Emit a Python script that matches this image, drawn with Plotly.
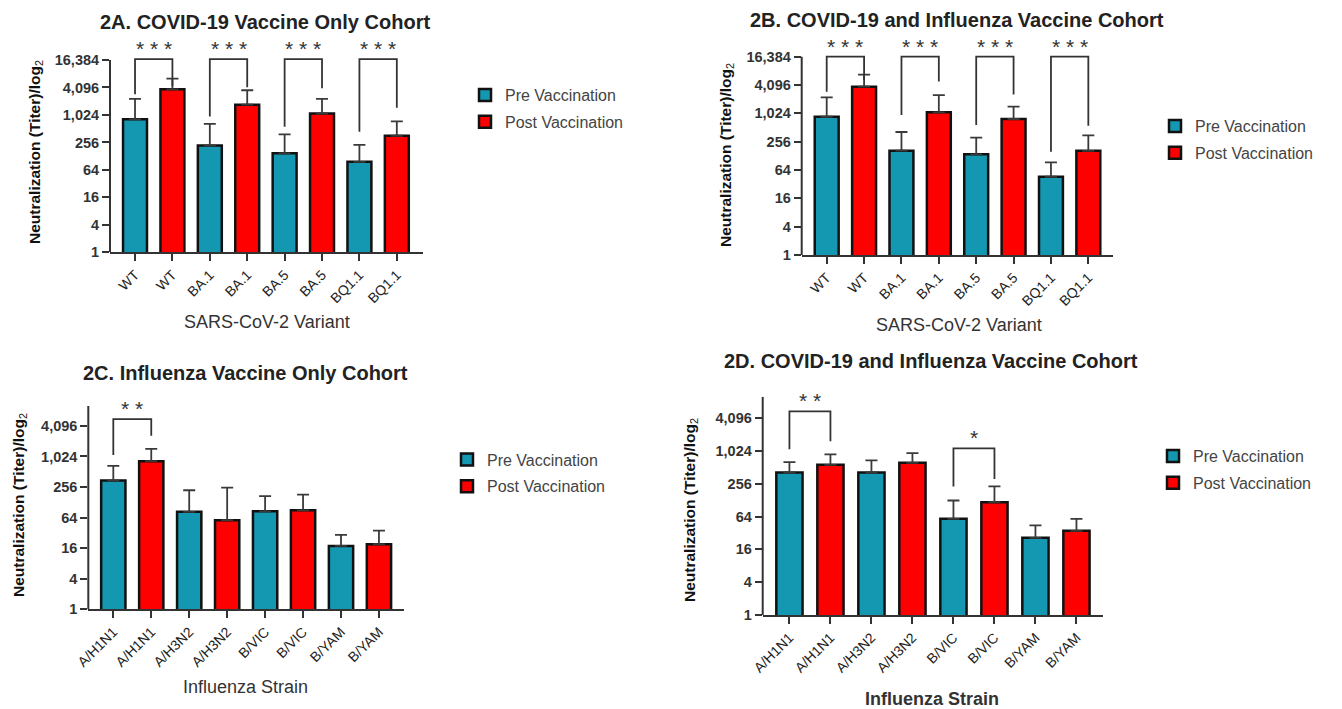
import math
import plotly.graph_objects as go

# ---------------- data ----------------
variants = ["WT", "BA.1", "BA.5", "BQ1.1"]
strains = ["A/H1N1", "A/H3N2", "B/VIC", "B/YAM"]

# 2A COVID-19 vaccine only cohort (mean titer, upper end of error bar)
a_pre = [820, 218, 148, 96]
a_pre_upper = [2300, 650, 385, 226]
a_post = [3740, 1720, 1100, 359]
a_post_upper = [6400, 3560, 2300, 740]

# 2B COVID-19 and influenza vaccine cohort
b_pre = [868, 165, 138, 46]
b_pre_upper = [2240, 411, 311, 93]
b_post = [3770, 1075, 776, 164]
b_post_upper = [6800, 2510, 1420, 349]

# 2C influenza vaccine only cohort
c_pre = [343, 83, 85, 17.7]
c_pre_upper = [668, 221, 169, 29.2]
c_post = [826, 57, 89, 19.1]
c_post_upper = [1444, 250, 182, 35.3]

# 2D COVID-19 and influenza vaccine cohort
d_pre = [411, 411, 58, 26]
d_pre_upper = [637, 683, 126, 44]
d_post = [569, 618, 117, 35]
d_post_upper = [880, 931, 228, 58]

# significance brackets: pair index, bracket top, left leg end, right leg end (titer), label
a_sig_pair = [0, 1, 2, 3]
a_sig_top = [17200, 17200, 17200, 17200]
a_sig_left = [2896, 942, 568, 440]
a_sig_right = [4390, 4120, 3930, 1470]
a_sig_label = ["***", "***", "***", "***"]

b_sig_pair = [0, 1, 2, 3]
b_sig_top = [16384, 16384, 16384, 16384]
b_sig_left = [2960, 942, 580, 156]
b_sig_right = [5220, 4840, 2590, 556]
b_sig_label = ["***", "***", "***", "***"]

c_sig_pair = [0]
c_sig_top = [5560]
c_sig_left = [1097]
c_sig_right = [2610]
c_sig_label = ["**"]

d_sig_pair = [0, 2]
d_sig_top = [5440, 1136]
d_sig_left = [1097, 228]
d_sig_right = [1530, 311]
d_sig_label = ["**", "*"]

y_tick_vals = [1, 4, 16, 64, 256, 1024, 4096, 16384]
y_tick_text = ["1", "4", "16", "64", "256", "1,024", "4,096", "16,384"]

series_names = ["Pre Vaccination", "Post Vaccination"]

# ---------------- styles / layout ----------------
TEAL = "#1497B0"
RED = "#FF0000"
EDGE = "#111111"
AXC = "#333333"
FONT = "Liberation Sans, Arial, sans-serif"

W, H = 1342, 709


def px(x):
    return x / W


def py(y):
    return 1 - y / H


panels = [
    dict(cats=variants, pre=a_pre, pre_up=a_pre_upper, post=a_post, post_up=a_post_upper,
         sig=(a_sig_pair, a_sig_top, a_sig_left, a_sig_right, a_sig_label),
         title="2A. COVID-19 Vaccine Only Cohort", xtitle="SARS-CoV-2 Variant", xbold=False,
         box=(110, 423, 55.9, 252.3), xr=[-0.669, 7.70],
         ytop=14.3, axtop=14, ymaxtick=8,
         title_xy=(265, 22), xt_xy=(267, 322), yt_xy=(35, 152),
         leg=(465, 108.5)),
    dict(cats=variants, pre=b_pre, pre_up=b_pre_upper, post=b_post, post_up=b_post_upper,
         sig=(b_sig_pair, b_sig_top, b_sig_left, b_sig_right, b_sig_label),
         title="2B. COVID-19 and Influenza Vaccine Cohort", xtitle="SARS-CoV-2 Variant", xbold=False,
         box=(801.7, 1113, 52.45, 255), xr=[-0.669, 7.66],
         ytop=14.3, axtop=14, ymaxtick=8,
         title_xy=(957, 20), xt_xy=(959, 325), yt_xy=(726, 155),
         leg=(1155, 139.5)),
    dict(cats=strains, pre=c_pre, pre_up=c_pre_upper, post=c_post, post_up=c_post_upper,
         sig=(c_sig_pair, c_sig_top, c_sig_left, c_sig_right, c_sig_label),
         title="2C. Influenza Vaccine Only Cohort", xtitle="Influenza Strain", xbold=False,
         box=(88.3, 404, 406, 609.3), xr=[-0.659, 7.66],
         ytop=13.3, axtop=13.3, ymaxtick=7,
         title_xy=(245, 373), xt_xy=(245, 687), yt_xy=(19, 505),
         leg=(447, 473)),
    dict(cats=strains, pre=d_pre, pre_up=d_pre_upper, post=d_post, post_up=d_post_upper,
         sig=(d_sig_pair, d_sig_top, d_sig_left, d_sig_right, d_sig_label),
         title="2D. COVID-19 and Influenza Vaccine Cohort", xtitle="Influenza Strain", xbold=True,
         box=(762.7, 1102.7, 396.7, 615), xr=[-0.652, 7.64],
         ytop=13.3, axtop=13.3, ymaxtick=7,
         title_xy=(931, 361), xt_xy=(932, 699), yt_xy=(690, 510),
         leg=(1153, 469.5)),
]

fig = go.Figure()
layout = dict(width=W, height=H, margin=dict(l=0, r=0, t=0, b=0, pad=0, autoexpand=False),
              paper_bgcolor="white", plot_bgcolor="white", barmode="overlay",
              font=dict(family=FONT, color=AXC), annotations=[], shapes=[])


def paper_text(x, y, text, size, color, angle=0):
    return dict(x=px(x), y=py(y), xref="paper", yref="paper", text=text, textangle=angle,
                xanchor="center", yanchor="middle", showarrow=False,
                font=dict(size=size, color=color, family=FONT))


for i, p in enumerate(panels):
    sfx = "" if i == 0 else str(i + 1)
    xa, ya = "x" + sfx, "y" + sfx
    legname = "legend" + sfx
    n = len(p["cats"])
    pre_x = [2 * k for k in range(n)]
    post_x = [2 * k + 1 for k in range(n)]
    for name, xs, vals, ups, col in [
        (series_names[0], pre_x, p["pre"], p["pre_up"], TEAL),
        (series_names[1], post_x, p["post"], p["post_up"], RED),
    ]:
        fig.add_trace(go.Bar(
            x=xs, y=vals, width=0.64, name=name, xaxis=xa, yaxis=ya,
            legend=legname, legendgroup=name + sfx,
            marker=dict(color=col, line=dict(color=EDGE, width=2.5)),
            error_y=dict(type="data", symmetric=False,
                         array=[u - v for u, v in zip(ups, vals)],
                         arrayminus=[0] * n, color="#3a3a3a", thickness=1.8, width=6),
            hoverinfo="skip",
        ))
    # significance brackets
    pairs, tops, lefts, rights, labels = p["sig"]
    for k, top, le, re_, lab in zip(pairs, tops, lefts, rights, labels):
        x0, x1 = 2 * k, 2 * k + 1
        fig.add_trace(go.Scatter(
            x=[x0, x0, x1, x1], y=[le, top, top, re_], mode="lines",
            line=dict(color=AXC, width=1.8), xaxis=xa, yaxis=ya,
            showlegend=False, hoverinfo="skip"))
        layout["annotations"].append(dict(
            x=(x0 + x1) / 2, y=math.log10(top), xref=xa, yref=ya,
            text=" ".join(lab), showarrow=False, xanchor="center", yanchor="bottom", yshift=-3,
            font=dict(size=21, color=AXC, family=FONT)))
    # y axis line (drawn only up to the top tick)
    layout["shapes"].append(dict(
        type="line", xref=xa + " domain", yref=ya, x0=0, x1=0, y0=1, y1=2 ** p["axtop"],
        line=dict(color=AXC, width=2)))
    tv = y_tick_vals[:p["ymaxtick"]]
    tt = y_tick_text[:p["ymaxtick"]]
    labels_x = [c for c in p["cats"] for _ in range(2)]
    bx0, bx1, by0, by1 = p["box"]
    layout["xaxis" + sfx] = dict(
        domain=[px(bx0), px(bx1)], range=p["xr"], anchor=ya, showgrid=False, zeroline=False,
        showline=True, linecolor=AXC, linewidth=2, ticks="outside", ticklen=7,
        tickwidth=2, tickcolor=AXC, tickvals=list(range(2 * n)), ticktext=labels_x,
        tickangle=-45, tickfont=dict(size=14, color="#222222", family=FONT), fixedrange=True)
    layout["yaxis" + sfx] = dict(
        domain=[py(by1), py(by0)], type="log", range=[0, p["ytop"] * math.log10(2)], anchor=xa,
        showgrid=False, zeroline=False, showline=False, ticks="outside", ticklen=7,
        tickwidth=2, tickcolor=AXC, tickvals=tv, ticktext=tt,
        tickfont=dict(size=14.5, color=AXC, family=FONT, weight="bold"), fixedrange=True)
    lx, ly = p["leg"]
    layout[legname] = dict(
        x=px(lx), y=py(ly), xanchor="left", yanchor="middle", bgcolor="rgba(0,0,0,0)",
        font=dict(size=16, color="#444444", family=FONT), traceorder="grouped",
        tracegroupgap=3, itemclick=False, itemdoubleclick=False)
    tx, ty = p["title_xy"]
    layout["annotations"].append(paper_text(tx, ty, "<b>" + p["title"] + "</b>", 20, "#222222"))
    xx, xy = p["xt_xy"]
    xt = "<b>" + p["xtitle"] + "</b>" if p["xbold"] else p["xtitle"]
    layout["annotations"].append(paper_text(xx, xy, xt, 18, AXC))
    yx, yy = p["yt_xy"]
    layout["annotations"].append(paper_text(
        yx, yy, "<b>Neutralization (Titer)/log</b><sub>2</sub>", 15.5, "#111111", angle=-90))

fig.update_layout(**layout)
# remove the default page margin so the 1342x709 figure fills the window exactly
fig.write_html("out.html", config={"displayModeBar": False},
               post_script="document.body.style.margin='0px';")
